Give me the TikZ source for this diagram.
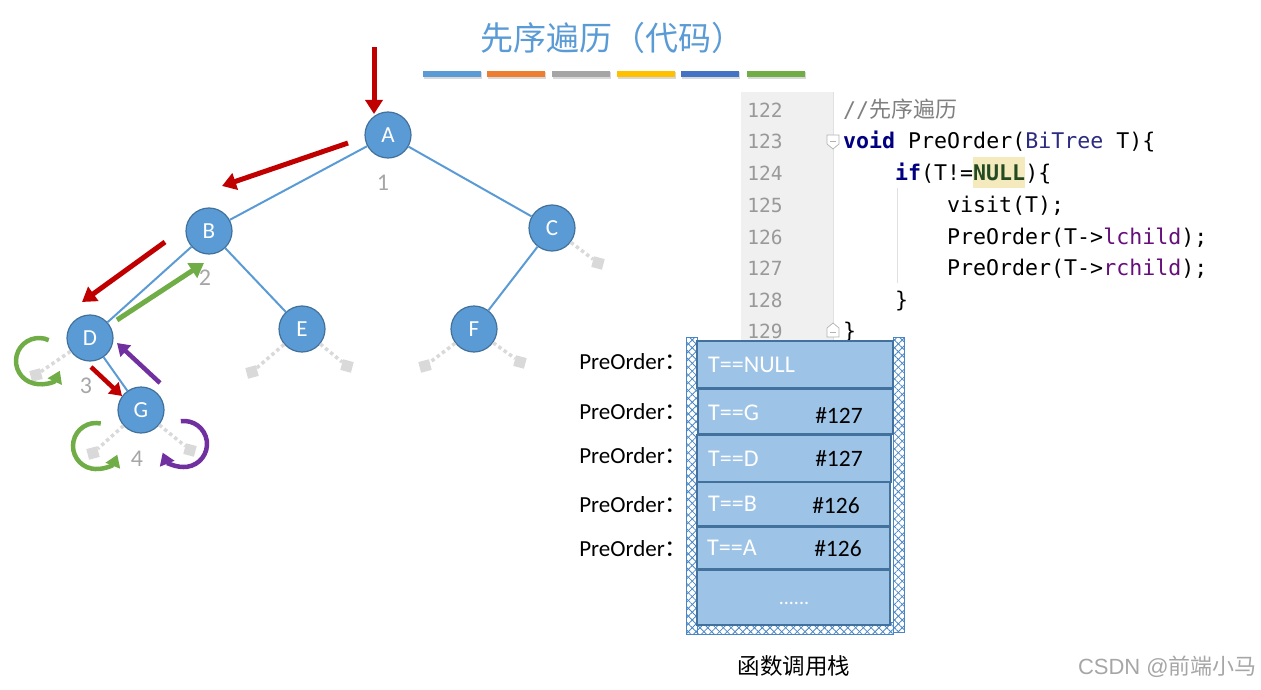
\documentclass[tikz,border=0pt]{standalone}
\usepackage{fontspec}
\setmainfont{Carlito}
\setmonofont{DejaVu Sans Mono}
\newfontfamily\cjk{Noto Sans CJK SC}
\usetikzlibrary{arrows.meta,patterns.meta}
\definecolor{nodeblue}{HTML}{5B9BD5}
\definecolor{nodeborder}{HTML}{41719C}
\definecolor{arrred}{HTML}{C00000}
\definecolor{arrgreen}{HTML}{70AD47}
\definecolor{arrpurple}{HTML}{7030A0}
\definecolor{barorange}{HTML}{ED7D31}
\definecolor{bargray}{HTML}{A5A5A5}
\definecolor{baryellow}{HTML}{FFC000}
\definecolor{bardblue}{HTML}{4472C4}
\definecolor{stackfill}{HTML}{9DC3E6}
\definecolor{nullgray}{HTML}{D9D9D9}
\definecolor{numgray}{HTML}{A6A6A6}
\definecolor{kw}{HTML}{000080}
\definecolor{ty}{HTML}{2B2B80}
\definecolor{nl}{HTML}{234A23}
\definecolor{fld}{HTML}{660E7A}
\definecolor{cmt}{HTML}{808080}
\definecolor{hl}{HTML}{F5EABD}
\definecolor{gutter}{HTML}{F0F0F0}
\definecolor{lnum}{HTML}{999999}
\definecolor{hatch}{HTML}{4A86C5}
\begin{document}
\begin{tikzpicture}[x=1pt,y=1pt,
  tn/.style={circle,fill=nodeblue,draw=nodeborder,line width=1.2pt,minimum size=46pt,inner sep=0pt,text=white,font=\fontsize{23}{23}\selectfont},
  tedge/.style={draw=nodeblue,line width=2pt},
  nsq/.style={rectangle,fill=nullgray,minimum size=11pt,inner sep=0pt},
  nedge/.style={draw=nullgray,line width=3.5pt,dash pattern=on 3.5pt off 3pt},
  bigarr/.style={line width=5pt,-{Triangle[length=14pt,width=17pt]}},
  looparr/.style={line width=4.5pt,-{Triangle[length=12pt,width=15pt]}},
  numlbl/.style={text=numgray,font=\fontsize{24}{24}\selectfont},
  codeln/.style={anchor=mid west,inner sep=0pt,font=\fontsize{21.6}{22}\ttfamily},
  lnumst/.style={anchor=mid,inner sep=0pt,text=lnum,font=\fontsize{19.5}{20}\ttfamily},
  blk/.style={fill=stackfill,draw=nodeborder,line width=1.2pt},
  wall/.style={draw=hatch,line width=1pt,fill=white},
  stxt/.style={anchor=mid west,inner sep=0pt,text=white,font=\fontsize{24}{24}\selectfont},
  snum/.style={anchor=mid,inner sep=0pt,text=black,font=\fontsize{23.5}{24}\selectfont},
  plbl/.style={anchor=mid east,inner sep=0pt,font=\fontsize{22}{22}\selectfont}
]
\useasboundingbox (0,0) rectangle (1261,-690);

% title
\node[text=nodeblue,font=\cjk\fontsize{33}{33}\selectfont] (title) at (612,-38) {先序遍历（代码）};
\foreach \xa/\c in {423/nodeblue,487/barorange,552/bargray,617/baryellow,681/bardblue,747/arrgreen}{
  \fill[black!15] (\xa+1,-72) rectangle (\xa+59,-79);
  \fill[\c] (\xa,-71) rectangle (\xa+58,-77);
}

% tree nodes
\node[tn] (A) at (388,-135) {A};
\node[tn] (B) at (209,-231) {B};
\node[tn] (C) at (552,-228) {C};
\node[tn] (D) at (90,-338) {D};
\node[tn] (E) at (302,-329) {E};
\node[tn] (F) at (474,-329) {F};
\node[tn] (G) at (141,-410) {G};
\draw[tedge] (A) -- (B);
\draw[tedge] (A) -- (C);
\draw[tedge] (B) -- (D);
\draw[tedge] (B) -- (E);
\draw[tedge] (C) -- (F);
\draw[tedge] (D) -- (G);

% null children
\node[nsq,rotate=-15] (cR) at (598,-263) {};
\node[nsq,rotate=15] (dL) at (36,-375) {};
\node[nsq,rotate=15] (eL) at (252,-372) {};
\node[nsq,rotate=-15] (eR) at (347,-366) {};
\node[nsq,rotate=15] (fL) at (425,-366) {};
\node[nsq,rotate=-15] (fR) at (520,-362) {};
\node[nsq,rotate=15] (gL) at (93,-453) {};
\node[nsq,rotate=-15] (gR) at (190,-450) {};
\draw[nedge] (C) -- (cR);
\draw[nedge] (D) -- (dL);
\draw[nedge] (E) -- (eL);
\draw[nedge] (E) -- (eR);
\draw[nedge] (F) -- (fL);
\draw[nedge] (F) -- (fR);
\draw[nedge] (G) -- (gL);
\draw[nedge] (G) -- (gR);

% step numbers
\node[numlbl] (n1) at (383,-183) {1};
\node[numlbl] (n2) at (205,-278) {2};
\node[numlbl] (n3) at (86,-386) {3};
\node[numlbl] (n4) at (137,-459) {4};

% arrows
\coordinate (r0s) at (374,-47); \coordinate (r0e) at (374,-114);
\coordinate (r1s) at (348,-143); \coordinate (r1e) at (222,-186);
\coordinate (r2s) at (165,-242); \coordinate (r2e) at (82,-302);
\coordinate (g1s) at (117,-320); \coordinate (g1e) at (204,-263);
\coordinate (r3s) at (91,-367); \coordinate (r3e) at (122,-396);
\coordinate (p1s) at (160,-383); \coordinate (p1e) at (117,-343);
\draw[bigarr,arrred] (r0s) -- (r0e);
\draw[bigarr,arrred] (r1s) -- (r1e);
\draw[bigarr,arrred] (r2s) -- (r2e);
\draw[bigarr,arrgreen] (g1s) -- (g1e);
\draw[looparr,arrred] (r3s) -- (r3e);
\draw[looparr,arrpurple] (p1s) -- (p1e);

% loops
\coordinate (ld) at (39,-361);
\draw[looparr,arrgreen] ([shift={(65:23)}]ld) arc[start angle=65,end angle=335,radius=23];
\coordinate (lg) at (96,-446);
\draw[looparr,arrgreen] ([shift={(78:23)}]lg) arc[start angle=78,end angle=338,radius=23];
\coordinate (rg) at (184,-444);
\draw[looparr,arrpurple] ([shift={(98:23)}]rg) arc[start angle=98,end angle=-158,radius=23];

% code panel
\fill[gutter] (741,-92) rectangle (833,-345);
\draw[black!12,line width=0.8pt] (833,-92) -- (833,-345);
\draw[black!12,line width=0.8pt] (897,-188) -- (897,-283);
\fill[hl] (973,-157) rectangle (1025,-188);
\foreach \yy/\lb in {110/122,141/123,173/124,205/125,237/126,268/127,300/128,331/129}{
  \node[lnumst] (ln\lb) at (765,-\yy-5) {\lb};
}
\draw[black!30,fill=white,line width=0.7pt] (827,-135) -- (839,-135) -- (839,-144) -- (833,-149) -- (827,-144) -- cycle;
\draw[black!30,line width=0.7pt] (830,-141) -- (836,-141);
\draw[black!30,fill=white,line width=0.7pt] (827,-337) -- (839,-337) -- (839,-328) -- (833,-323) -- (827,-328) -- cycle;
\draw[black!30,line width=0.7pt] (830,-332) -- (836,-332);
\node[codeln] (c122) at (843,-115) {\color{cmt}//{\cjk\fontsize{22}{22}\selectfont 先序遍历}};
\node[codeln] (c123) at (843,-146) {{\bfseries\color{kw}void} PreOrder({\color{ty}BiTree} T)\{};
\node[codeln] (c124) at (895,-178) {{\bfseries\color{kw}if}(T!={\bfseries\color{nl}NULL})\{};
\node[codeln] (c125) at (947,-210) {visit(T);};
\node[codeln] (c126) at (947,-242) {PreOrder(T->{\color{fld}lchild});};
\node[codeln] (c127) at (947,-273) {PreOrder(T->{\color{fld}rchild});};
\node[codeln] (c128) at (895,-305) {\}};
\node[codeln] (c129) at (843,-336) {\}};

% stack walls
\filldraw[wall] (686,-337) rectangle (697,-634);
\filldraw[wall] (893,-337) rectangle (904,-632);
\filldraw[wall] (697,-622) rectangle (893,-634);
\foreach \ang in {45,-45}{
  \fill[pattern={Lines[angle=\ang,distance=5.5pt,line width=0.8pt]},pattern color=hatch] (686,-337) rectangle (697,-634);
  \fill[pattern={Lines[angle=\ang,distance=5.5pt,line width=0.8pt]},pattern color=hatch] (893,-337) rectangle (904,-632);
  \fill[pattern={Lines[angle=\ang,distance=5.5pt,line width=0.8pt]},pattern color=hatch] (697,-622) rectangle (893,-634);
}
\draw[hatch,line width=1pt] (686,-337) rectangle (697,-634);
\draw[hatch,line width=1pt] (893,-337) rectangle (904,-632);
\draw[hatch,line width=1pt] (697,-622) rectangle (893,-634);

% stack blocks
\draw[blk] (697,-570) rectangle (890,-625);
\draw[blk] (697,-527) rectangle (890,-569);
\draw[blk] (697,-482) rectangle (890,-526);
\draw[blk] (697,-435) rectangle (891,-482);
\draw[blk] (698,-389) rectangle (893,-434);
\draw[blk] (697,-341) rectangle (893,-388);

\node[stxt] (s1) at (708,-370) {T==NULL};
\node[stxt] (s2) at (708,-418) {T==G};
\node[snum] (h2) at (839,-421) {\#127};
\node[stxt] (s3) at (708,-464) {T==D};
\node[snum] (h3) at (839,-464) {\#127};
\node[stxt] (s4) at (708,-509) {T==B};
\node[snum] (h4) at (836,-511) {\#126};
\node[stxt] (s5) at (707,-553) {T==A};
\node[snum] (h5) at (838,-554) {\#126};
\node[text=white,font=\fontsize{20}{20}\selectfont,inner sep=0pt] (s6) at (794,-603) {......};

\foreach \yy/\nm in {361/p1,411/p2,455/p3,504/p4,548/p5}{
  \node[plbl] (\nm) at (688,-\yy-6) {\fontsize{23}{23}\selectfont PreOrder{\cjk ：}};
}

\node[font=\cjk\fontsize{22.5}{22}\selectfont] (stk) at (794,-666) {函数调用栈};
\node[text=black!35,font=\fontsize{22}{22}\selectfont,anchor=mid east,inner sep=0pt] (wm) at (1257,-672) {\fontspec{Liberation Sans}CSDN @{\cjk 前端小马}};
\end{tikzpicture}
\end{document}
